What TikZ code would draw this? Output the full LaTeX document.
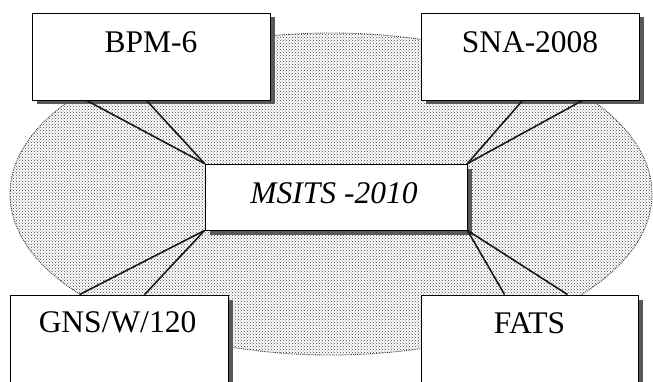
\documentclass[tikz,border=0pt]{standalone}
\usepackage{fontspec}
\setmainfont{Liberation Serif}
\usetikzlibrary{patterns,shadows,calc}
\begin{document}
\begin{tikzpicture}[x=1pt,y=1pt,
  field/.style={pattern=crosshatch dots, pattern color=black!75,
    draw=black!75, densely dotted, line width=0.9pt},
  box/.style={draw=black, fill=white, line width=0.9pt, inner sep=0pt,
    drop shadow={shadow xshift=4.5pt, shadow yshift=-4.5pt,
      fill=black!65, opacity=1}},
  link/.style={draw=black!90, line width=1.6pt},
  caption/.style={anchor=base, inner sep=0pt,
    font=\fontsize{31.5}{32}\selectfont}]
\useasboundingbox (0,0) rectangle (653,381);
\clip (0,0) rectangle (653,381);
\fill[white] (0,0) rectangle (653,381);

% dotted oval in the background
\path[field] (331,187) ellipse [x radius=321, y radius=161];

% outer boxes
\node[box, minimum width=238pt, minimum height=87pt] (bpm) at (151,324.5) {};
\node[box, minimum width=218pt, minimum height=87pt] (sna) at (530,324.5) {};
\node[box, minimum width=218pt, minimum height=106pt] (gns) at (119,33) {};
\node[box, minimum width=217pt, minimum height=106pt] (fats) at (529.5,33) {};

% central box
\node[box, minimum width=262pt, minimum height=66pt] (msits) at (336,184) {};

% connectors from the central box corners to the outer boxes
\draw[link] (msits.north west) -- ([xshift=55pt]bpm.south west);
\draw[link] (msits.north west) -- ([xshift=115pt]bpm.south west);
\draw[link] (msits.north east) -- ([xshift=102pt]sna.south west);
\draw[link] (msits.north east) -- ([xshift=162pt]sna.south west);
\draw[link] (msits.south west) -- ([xshift=70pt]gns.north west);
\draw[link] (msits.south west) -- ([xshift=135pt]gns.north west);
\draw[link] (msits.south east) -- ([xshift=84pt]fats.north west);
\draw[link] (msits.south east) -- ([xshift=147pt]fats.north west);

% labels
\node[caption] (bpmt) at ([yshift=-40pt]bpm.north) {BPM-6};
\node[caption] (snat) at ([yshift=-40pt]sna.north) {SNA-2008};
\node[caption] (gnst) at ([yshift=-38pt,xshift=-1.5pt]gns.north) {GNS/W/120};
\node[caption] (fatst) at ([yshift=-39pt]fats.north) {FATS};
\node[caption, font=\fontsize{31.5}{32}\selectfont\itshape] (msitst)
  at ([yshift=-6pt,xshift=-2pt]msits.center) {MSITS -2010};
\end{tikzpicture}
\end{document}
